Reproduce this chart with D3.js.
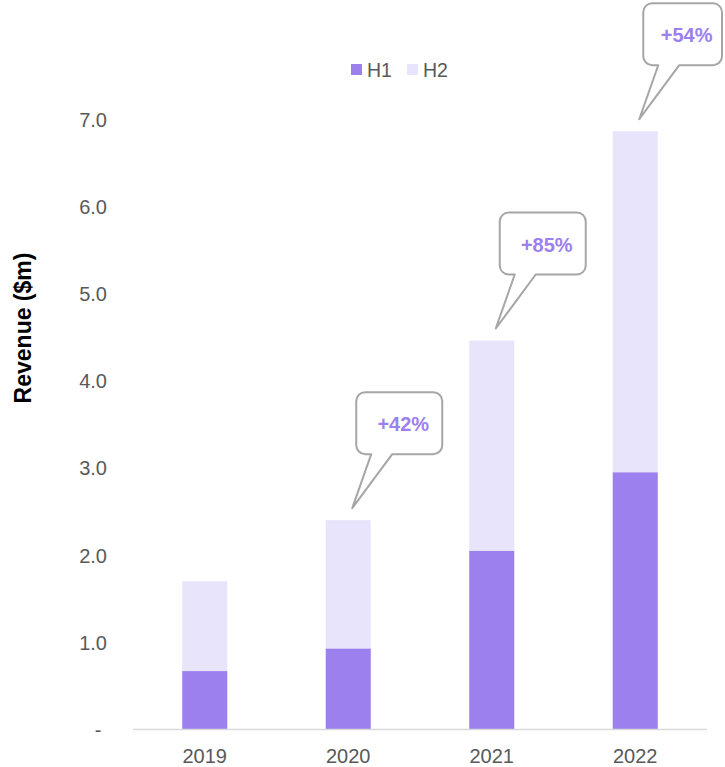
<!DOCTYPE html>
<html>
<head>
<meta charset="utf-8">
<script src="https://cdn.jsdelivr.net/npm/d3@7"></script>
<style>
  html, body { margin: 0; padding: 0; background: #ffffff; }
  svg { display: block; font-family: "Liberation Sans", Arial, sans-serif; }
</style>
</head>
<body>
<svg id="chart" width="725" height="767"></svg>
<script>
const years = ["2019", "2020", "2021", "2022"];
const h1Values = [0.67, 0.93, 2.05, 2.95];
const h2Values = [1.03, 1.47, 2.41, 3.91];
const yTicks = [0, 1, 2, 3, 4, 5, 6, 7];
const growthYears = ["2020", "2021", "2022"];
const growthLabels = ["+42%", "+85%", "+54%"];
const seriesNames = ["H1", "H2"];
const colors = { H1: "#9b80ee", H2: "#e8e4fb" };

const svg = d3.select("#chart");

const x = d3.scaleBand().domain(years).range([133, 707]).paddingInner(0.686).paddingOuter(0.343);
const y = d3.scaleLinear().domain([0, 7]).range([729.5, 119]);

const rows = years.map((yr, i) => ({ year: yr, H1: h1Values[i], H2: h2Values[i] }));
const stacked = d3.stack().keys(seriesNames)(rows);

// bars
svg.append("g").selectAll("g").data(stacked).join("g")
  .attr("fill", d => colors[d.key])
  .selectAll("rect").data(d => d).join("rect")
  .attr("x", d => x(d.data.year))
  .attr("width", x.bandwidth())
  .attr("y", d => y(d[1]))
  .attr("height", d => y(d[0]) - y(d[1]));

// baseline
svg.append("line")
  .attr("x1", x.range()[0]).attr("x2", x.range()[1])
  .attr("y1", y(0)).attr("y2", y(0))
  .attr("stroke", "#d9d9d9").attr("stroke-width", 1.3);

// y axis labels
const yAxis = d3.axisLeft(y).tickValues(yTicks).tickSize(0)
  .tickFormat(d => d === 0 ? "-" : d3.format(".1f")(d));
const gy = svg.append("g").attr("transform", "translate(107,0)").call(yAxis);
gy.select(".domain").remove();
gy.selectAll("text")
  .attr("fill", "#595959").attr("font-size", "20px")
  .attr("font-family", "Liberation Sans, Arial, sans-serif")
  .attr("x", 0).attr("dy", "0.35em")
  .attr("text-anchor", d => d === 0 ? "middle" : "end")
  .attr("dx", d => d === 0 ? "-9" : "0");

// x axis labels
const xAxis = d3.axisBottom(x).tickSize(0);
const gx = svg.append("g").attr("transform", `translate(0,${y(0)})`).call(xAxis);
gx.select(".domain").remove();
gx.selectAll("text")
  .attr("fill", "#595959").attr("font-size", "20px")
  .attr("font-family", "Liberation Sans, Arial, sans-serif")
  .attr("y", 33).attr("dy", "0");

// y title
svg.append("text")
  .attr("transform", "translate(31,328) rotate(-90)")
  .attr("text-anchor", "middle")
  .attr("font-size", "23px").attr("font-weight", "bold").attr("fill", "#000")
  .text("Revenue ($m)");

// legend
const legend = svg.append("g");
const legendX = [351, 407];
seriesNames.forEach((s, i) => {
  legend.append("rect").attr("x", legendX[i]).attr("y", 64).attr("width", 11).attr("height", 11)
    .attr("fill", colors[s]);
  legend.append("text").attr("x", legendX[i] + 16).attr("y", 77)
    .attr("font-size", "19.5px").attr("fill", "#595959").text(s);
});

// callouts
const totals = {};
rows.forEach(r => totals[r.year] = r.H1 + r.H2);
growthYears.forEach((yr, i) => {
  const xc = x(yr) + x.bandwidth() / 2;
  const top = y(totals[yr]);
  const tipX = xc + 4, tipY = top - 12;
  const left = xc + 8;
  const right = Math.min(left + 86, 722);
  const bottom = top - 66;
  const topY = bottom - 62;
  const r = 9;
  const tb1 = left + 15, tb2 = left + 36;
  const p = d3.path();
  p.moveTo(left + r, topY);
  p.lineTo(right - r, topY);
  p.arcTo(right, topY, right, topY + r, r);
  p.lineTo(right, bottom - r);
  p.arcTo(right, bottom, right - r, bottom, r);
  p.lineTo(tb2, bottom);
  p.lineTo(tipX, tipY);
  p.lineTo(tb1, bottom);
  p.lineTo(left + r, bottom);
  p.arcTo(left, bottom, left, bottom - r, r);
  p.lineTo(left, topY + r);
  p.arcTo(left, topY, left + r, topY, r);
  p.closePath();
  svg.append("path").attr("d", p.toString())
    .attr("fill", "#ffffff").attr("stroke", "#a6a6a6").attr("stroke-width", 2)
    .attr("stroke-linejoin", "round");
  svg.append("text")
    .attr("x", (left + right) / 2 + 4).attr("y", (topY + bottom) / 2 + 3)
    .attr("text-anchor", "middle").attr("dominant-baseline", "middle")
    .attr("font-size", "20px").attr("font-weight", "bold").attr("fill", "#9b80ee")
    .text(growthLabels[i]);
});
</script>
</body>
</html>
